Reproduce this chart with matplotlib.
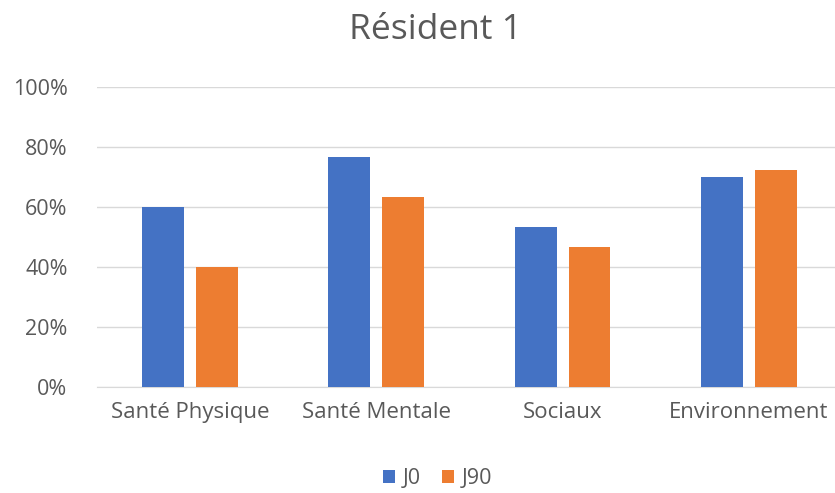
import matplotlib
matplotlib.use("Agg")
import matplotlib.pyplot as plt
import numpy as np
from matplotlib.ticker import PercentFormatter

categories = ["Santé Physique", "Santé Mentale", "Sociaux", "Environnement"]
j0 = [60.0, 76.7, 53.3, 70.0]
j90 = [40.0, 63.3, 46.7, 72.3]
series_names = ["J0", "J90"]
y_ticks = [0, 20, 40, 60, 80, 100]

plt.rcParams["font.family"] = ["Open Sans", "DejaVu Sans"]
text_color = "#595959"

fig = plt.figure(figsize=(8.35, 4.93), dpi=100)
ax = fig.add_axes([0.1159, 0.2156, 0.8926, 0.608])

x = np.arange(len(categories))
w = 0.225
gap = 0.064
off = (w + gap) / 2
ax.bar(x - off, j0, w, color="#4472C4", label=series_names[0], zorder=3)
ax.bar(x + off, j90, w, color="#ED7D31", label=series_names[1], zorder=3)

ax.set_xlim(-0.5, len(categories) - 0.5)
ax.set_ylim(0, 100)
ax.set_yticks(y_ticks)
ax.yaxis.set_major_formatter(PercentFormatter(decimals=0))
ax.set_xticks(x)
ax.set_xticklabels(categories)

ax.grid(axis="y", color="#D9D9D9", linewidth=1, zorder=0)
for s in ["top", "right", "left"]:
    ax.spines[s].set_visible(False)
ax.spines["bottom"].set_color("#D9D9D9")
ax.tick_params(axis="both", length=0, labelsize=15.5, colors=text_color)
ax.tick_params(axis="x", pad=11, labelsize=16)
ax.tick_params(axis="y", pad=21)

fig.text(0.521, 0.94, "Résident 1", ha="center", va="center",
         fontsize=25.5, color=text_color)

fig.legend(loc="center", bbox_to_anchor=(0.524, 0.03), ncol=2, frameon=False,
           fontsize=15.5, labelcolor=text_color, handlelength=0.55, handleheight=0.55,
           handletextpad=0.35, columnspacing=1.0)

fig.savefig("out.png", dpi=100)
